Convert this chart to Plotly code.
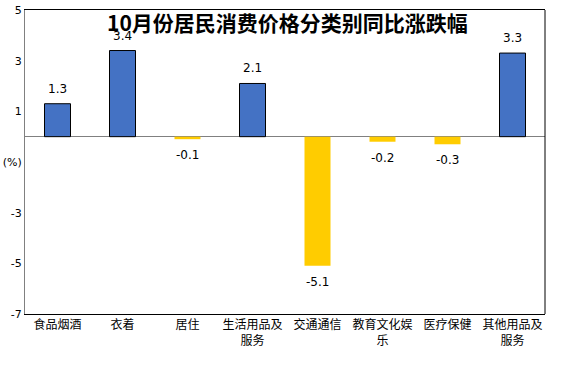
import plotly.graph_objects as go

categories = ["食品烟酒", "衣着", "居住", "生活用品及<br>服务", "交通通信", "教育文化娱<br>乐", "医疗保健", "其他用品及<br>服务"]
values = [1.3, 3.4, -0.1, 2.1, -5.1, -0.2, -0.3, 3.3]
y_tickvals = [5, 3, 1, -1, -3, -5, -7]
y_ticktext = ["5", "3", "1", "(%)", "-3", "-5", "-7"]
title_text = "10月份居民消费价格分类别同比涨跌幅"

BLUE = "#4472C4"
YELLOW = "#FFCC00"

colors = [BLUE if v >= 0 else YELLOW for v in values]
line_w = [1 if v >= 0 else 0 for v in values]

fig = go.Figure()
fig.add_trace(go.Bar(
    x=categories, y=values,
    marker=dict(color=colors, line=dict(color="black", width=line_w)),
    hoverinfo="skip",
))

for c, v in zip(categories, values):
    fig.add_annotation(
        x=c, y=v, text=f"{v:.1f}", showarrow=False,
        yshift=15 if v >= 0 else -16, yanchor="middle",
        font=dict(family="DejaVu Sans", size=12, color="black"),
    )

fig.add_annotation(
    x=0.5, xref="paper", y=1, yref="paper", yshift=-12, xshift=2,
    text=f"<b>{title_text}</b>", showarrow=False, yanchor="middle",
    font=dict(family="Noto Sans CJK SC", size=21, color="black"),
)

fig.add_shape(type="line", xref="paper", yref="paper", x0=1, x1=1, y0=0, y1=1,
              line=dict(color="black", width=1))

fig.update_layout(
    width=574, height=374,
    margin=dict(l=25, r=29, t=10, b=60),
    paper_bgcolor="white", plot_bgcolor="white",
    bargap=0.6, showlegend=False,
    xaxis=dict(
        showline=True, linecolor="black", linewidth=1, mirror=True,
        showgrid=False, ticks="", automargin=False,
        tickfont=dict(family="Noto Sans CJK SC", size=12, color="black"),
    ),
    yaxis=dict(
        range=[-7, 5], tickvals=y_tickvals, ticktext=y_ticktext,
        showline=True, linecolor="#808080", linewidth=1,
        showgrid=False, zeroline=True, zerolinecolor="#808080", zerolinewidth=1,
        ticks="", ticklen=0, automargin=False,
        tickfont=dict(family="DejaVu Sans", size=11, color="black"),
    ),
)

fig.write_html("out.html", config={"displayModeBar": False},
               post_script="document.body.style.margin='0';")
